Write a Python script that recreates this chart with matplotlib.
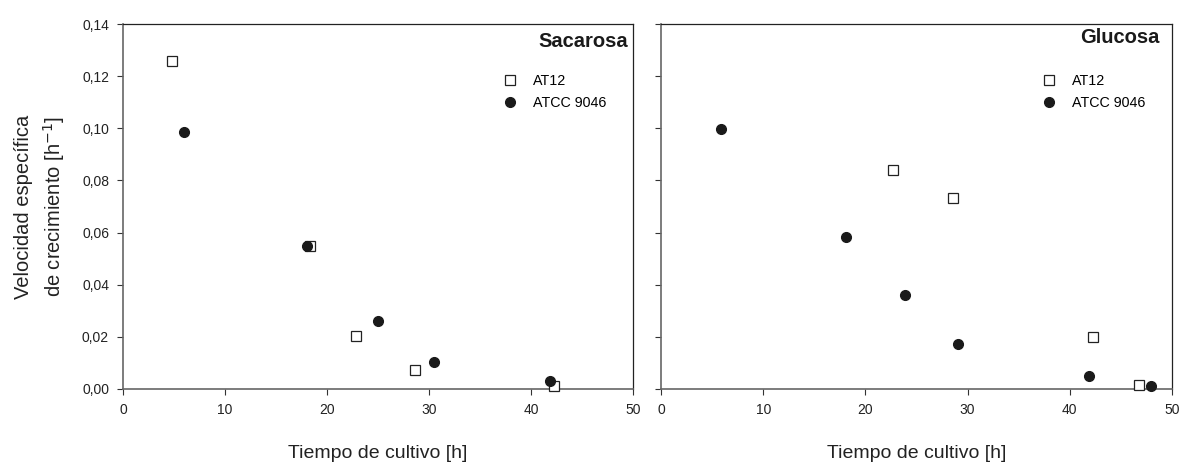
import matplotlib
matplotlib.use("Agg")
import matplotlib.pyplot as plt
from matplotlib.ticker import FuncFormatter

plt.rcParams['font.family'] = ['Liberation Sans', 'DejaVu Sans']

# Sacarosa
sac_at12_t = [4.8, 18.3, 22.8, 28.6, 42.3]
sac_at12_mu = [0.1258, 0.0549, 0.0205, 0.0072, 0.0011]
sac_atcc_t = [6.0, 18.0, 25.0, 30.5, 41.9]
sac_atcc_mu = [0.0984, 0.0549, 0.0259, 0.0102, 0.0030]

# Glucosa
glu_at12_t = [22.7, 28.6, 42.3, 46.8]
glu_at12_mu = [0.0840, 0.0734, 0.0201, 0.0016]
glu_atcc_t = [5.9, 18.1, 23.9, 29.1, 41.9, 47.9]
glu_atcc_mu = [0.0999, 0.0584, 0.0361, 0.0173, 0.0048, 0.0010]

series_labels = ["AT12", "ATCC 9046"]
panel_titles = ["Sacarosa", "Glucosa"]
x_ticks = [0, 10, 20, 30, 40, 50]
y_ticks = [0.00, 0.02, 0.04, 0.06, 0.08, 0.10, 0.12, 0.14]

fig = plt.figure(figsize=(11.81, 4.62), dpi=100)
W, H = 1181, 462
ax1 = fig.add_axes([123 / W, 1 - 389 / H, (633 - 123) / W, (389 - 24) / H])
ax2 = fig.add_axes([661 / W, 1 - 389 / H, (1172 - 661) / W, (389 - 24) / H])

comma = FuncFormatter(lambda v, p: f"{v:.2f}".replace(".", ","))

panels = [
    (ax1, sac_at12_t, sac_at12_mu, sac_atcc_t, sac_atcc_mu, panel_titles[0], 0.99, 0.953),
    (ax2, glu_at12_t, glu_at12_mu, glu_atcc_t, glu_atcc_mu, panel_titles[1], 0.976, 0.962),
]

for ax, t1, m1, t2, m2, title, tx, ty in panels:
    ax.plot(t1, m1, linestyle='none', marker='s', markersize=6.5,
            markerfacecolor='white', markeredgecolor='#222222',
            markeredgewidth=0.9, label=series_labels[0], zorder=3,
            clip_on=False)
    ax.plot(t2, m2, linestyle='none', marker='o', markersize=7,
            markerfacecolor='#1a1a1a', markeredgecolor='#1a1a1a',
            label=series_labels[1], zorder=3, clip_on=False)
    ax.set_xlim(0, 50)
    ax.set_ylim(0, 0.14)
    ax.set_xticks(x_ticks)
    ax.set_yticks(y_ticks)
    ax.tick_params(direction='out', length=4, width=0.8, colors='#333333',
                   labelsize=10, labelcolor='#222222', pad=6)
    for side in ['top', 'right']:
        ax.spines[side].set_color('#222222')
        ax.spines[side].set_linewidth(0.9)
    for side in ['left', 'bottom']:
        ax.spines[side].set_color('#666666')
        ax.spines[side].set_linewidth(1.2)
    ax.text(tx, ty, title, transform=ax.transAxes, ha='right', va='center',
            fontsize=14.5, fontweight='bold', color='#1a1a1a')
    ax.legend(loc='upper right', bbox_to_anchor=(0.947, 0.862), frameon=False,
              fontsize=10.3, handletextpad=1.1, labelspacing=0.55,
              handlelength=1.0, borderaxespad=0, borderpad=0)
    ax.set_xlabel("Tiempo de cultivo [h]", fontsize=14, labelpad=20,
                  color='#222222')

ax1.yaxis.set_major_formatter(comma)
ax2.tick_params(labelleft=False)
ax1.set_ylabel("Velocidad específica\nde crecimiento [h$^{-1}$]",
               fontsize=14.5, labelpad=11, color='#222222', linespacing=1.38)

fig.savefig("out.png", dpi=100)
